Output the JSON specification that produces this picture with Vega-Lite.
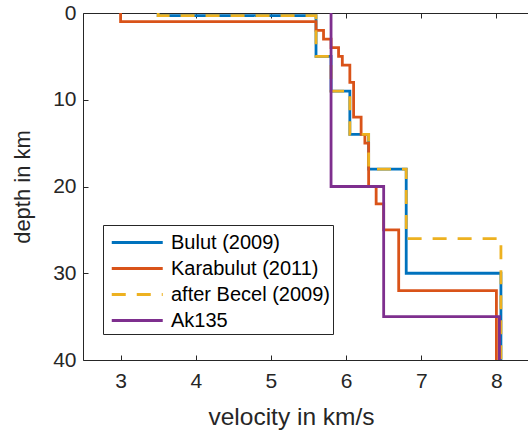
{
  "$schema": "https://vega.github.io/schema/vega-lite/v6.json",
  "autosize": "none",
  "width": 451,
  "height": 347,
  "padding": {"left": 83, "top": 13, "right": 0, "bottom": 72},
  "background": "white",
  "config": {
    "view": {"stroke": null},
    "font": "Liberation Sans",
    "axis": {
      "grid": false,
      "domainColor": "#262626",
      "tickColor": "#262626",
      "labelColor": "#262626",
      "titleColor": "#262626",
      "labelFont": "Liberation Sans",
      "titleFont": "Liberation Sans",
      "labelFontSize": 21,
      "titleFontSize": 22,
      "titleFontWeight": "normal",
      "tickSize": -5,
      "tickWidth": 1,
      "domainWidth": 1
    },
    "legend": {
      "title": null,
      "orient": "none",
      "legendX": 20,
      "legendY": 212,
      "symbolType": "M-1,0H3",
      "symbolSize": 650,
      "symbolStrokeWidth": 2.8,
      "symbolOffset": 4,
      "labelFontSize": 20,
      "labelFont": "Liberation Sans",
      "labelColor": "#000000",
      "labelOffset": 32,
      "labelLimit": 400,
      "strokeColor": "#262626",
      "fillColor": "#ffffff",
      "padding": 3,
      "rowPadding": 1
    }
  },
  "data": {
    "values": [
      {"model": "Bulut (2009)", "velocity": 3.5, "depth": 0},
      {"model": "Bulut (2009)", "velocity": 5.6, "depth": 0.3},
      {"model": "Bulut (2009)", "velocity": 5.8, "depth": 5},
      {"model": "Bulut (2009)", "velocity": 6.05, "depth": 9},
      {"model": "Bulut (2009)", "velocity": 6.3, "depth": 14},
      {"model": "Bulut (2009)", "velocity": 6.8, "depth": 18},
      {"model": "Bulut (2009)", "velocity": 8.06, "depth": 30},
      {"model": "Bulut (2009)", "velocity": 8.06, "depth": 40},

      {"model": "Karabulut (2011)", "velocity": 3.0, "depth": 0},
      {"model": "Karabulut (2011)", "velocity": 5.6, "depth": 1},
      {"model": "Karabulut (2011)", "velocity": 5.7, "depth": 2},
      {"model": "Karabulut (2011)", "velocity": 5.8, "depth": 3},
      {"model": "Karabulut (2011)", "velocity": 5.9, "depth": 4},
      {"model": "Karabulut (2011)", "velocity": 5.95, "depth": 5},
      {"model": "Karabulut (2011)", "velocity": 6.05, "depth": 6},
      {"model": "Karabulut (2011)", "velocity": 6.1, "depth": 8},
      {"model": "Karabulut (2011)", "velocity": 6.2, "depth": 12},
      {"model": "Karabulut (2011)", "velocity": 6.25, "depth": 14},
      {"model": "Karabulut (2011)", "velocity": 6.3, "depth": 15},
      {"model": "Karabulut (2011)", "velocity": 6.4, "depth": 20},
      {"model": "Karabulut (2011)", "velocity": 6.5, "depth": 22},
      {"model": "Karabulut (2011)", "velocity": 6.7, "depth": 25},
      {"model": "Karabulut (2011)", "velocity": 8.0, "depth": 32},
      {"model": "Karabulut (2011)", "velocity": 8.0, "depth": 40},

      {"model": "after Becel (2009)", "velocity": 3.5, "depth": 0},
      {"model": "after Becel (2009)", "velocity": 5.6, "depth": 0.3},
      {"model": "after Becel (2009)", "velocity": 5.8, "depth": 5},
      {"model": "after Becel (2009)", "velocity": 6.05, "depth": 9},
      {"model": "after Becel (2009)", "velocity": 6.3, "depth": 14},
      {"model": "after Becel (2009)", "velocity": 6.8, "depth": 18},
      {"model": "after Becel (2009)", "velocity": 8.06, "depth": 26},
      {"model": "after Becel (2009)", "velocity": 8.06, "depth": 40},

      {"model": "Ak135", "velocity": 5.8, "depth": 0},
      {"model": "Ak135", "velocity": 6.5, "depth": 20},
      {"model": "Ak135", "velocity": 8.04, "depth": 35},
      {"model": "Ak135", "velocity": 8.04, "depth": 40}
    ]
  },
  "layer": [
    {
      "transform": [{"filter": "datum.model !== 'Ak135'"}],
      "mark": {"type": "line", "interpolate": "step-before", "strokeWidth": 2.8, "strokeCap": "butt"},
      "encoding": {
        "x": {
          "field": "velocity", "type": "quantitative",
          "scale": {"domain": [2.5, 8.5], "nice": false, "zero": false},
          "axis": {
            "orient": "bottom", "values": [3, 4, 5, 6, 7, 8], "title": "velocity in km/s",
            "titleFontSize": 24.5,
            "labelPadding": 15, "titleX": 208, "titleY": 64, "titleBaseline": "alphabetic"
          }
        },
        "y": {
          "field": "depth", "type": "quantitative",
          "scale": {"domain": [0, 40], "reverse": true, "nice": false},
          "axis": {
            "values": [0, 10, 20, 30, 40], "title": "depth in km", "labelPadding": 12,
            "titleX": -61, "titleY": 173.5, "titleAngle": 270, "titleAlign": "center", "titleBaseline": "middle"
          }
        },
        "color": {
          "field": "model", "type": "nominal",
          "scale": {
            "domain": ["Bulut (2009)", "Karabulut (2011)", "after Becel (2009)", "Ak135"],
            "range": ["#0072BD", "#D95319", "#EDB120", "#7E2F8E"]
          }
        },
        "strokeDash": {
          "field": "model", "type": "nominal",
          "scale": {
            "domain": ["Bulut (2009)", "Karabulut (2011)", "after Becel (2009)", "Ak135"],
            "range": [[1, 0], [1, 0], [14, 11], [1, 0]]
          }
        },
        "order": {"field": "depth", "type": "quantitative"}
      }
    },
    {
      "transform": [{"filter": "datum.model === 'Ak135'"}],
      "mark": {"type": "line", "interpolate": "step-before", "strokeWidth": 2.8, "strokeCap": "butt"},
      "encoding": {
        "x": {
          "field": "velocity", "type": "quantitative",
          "scale": {"domain": [2.5, 8.5], "nice": false, "zero": false},
          "axis": {"orient": "top", "values": [3, 4, 5, 6, 7, 8], "labels": false, "title": null}
        },
        "y": {
          "field": "depth", "type": "quantitative",
          "scale": {"domain": [0, 40], "reverse": true, "nice": false},
          "axis": {
            "values": [0, 10, 20, 30, 40], "title": "depth in km", "labelPadding": 12,
            "titleX": -61, "titleY": 173.5, "titleAngle": 270, "titleAlign": "center", "titleBaseline": "middle"
          }
        },
        "color": {
          "field": "model", "type": "nominal",
          "scale": {
            "domain": ["Bulut (2009)", "Karabulut (2011)", "after Becel (2009)", "Ak135"],
            "range": ["#0072BD", "#D95319", "#EDB120", "#7E2F8E"]
          }
        },
        "strokeDash": {
          "field": "model", "type": "nominal",
          "scale": {
            "domain": ["Bulut (2009)", "Karabulut (2011)", "after Becel (2009)", "Ak135"],
            "range": [[1, 0], [1, 0], [14, 11], [1, 0]]
          }
        },
        "order": {"field": "depth", "type": "quantitative"}
      }
    }
  ],
  "resolve": {"axis": {"x": "independent"}}
}
